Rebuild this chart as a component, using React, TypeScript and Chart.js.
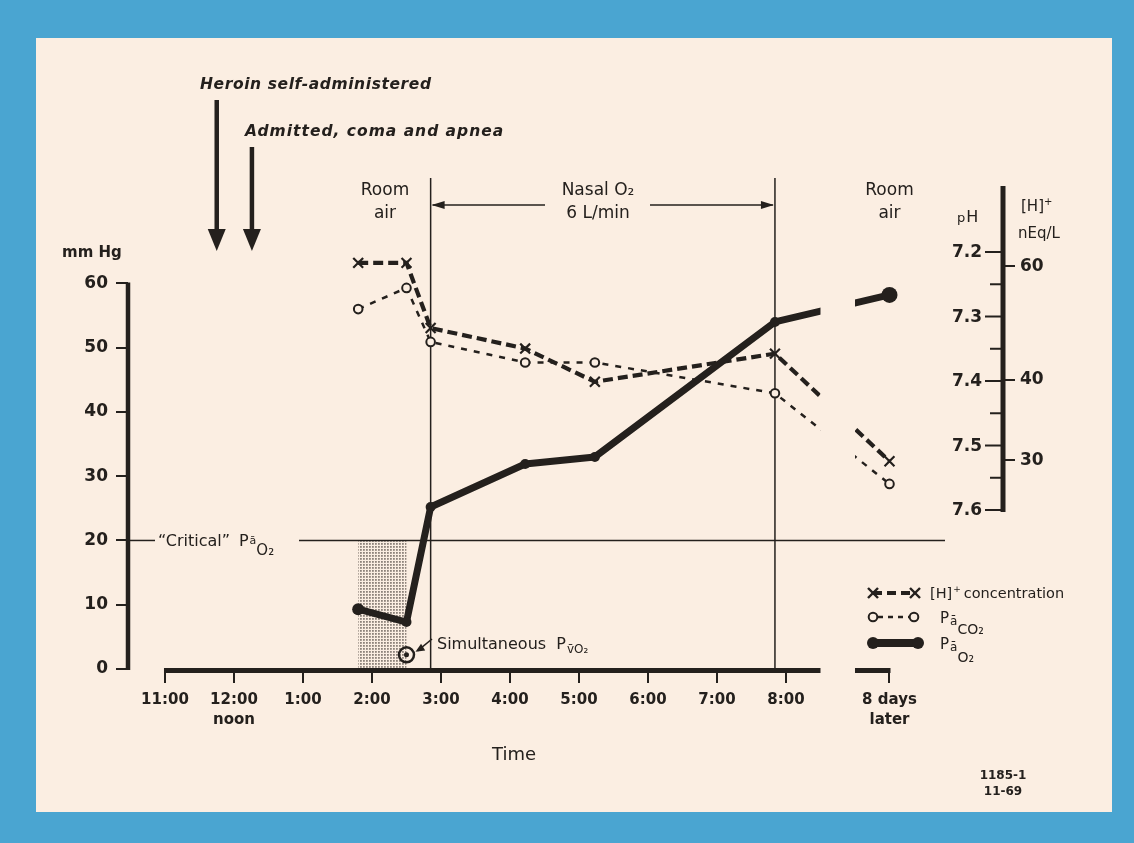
import React, { useEffect, useRef } from "react";
import { Chart, registerables } from "chart.js";
Chart.register(...registerables);

// ---------- data (hours of the day; 21.5 stands for "8 days later") ----------
const sampleTimes = [13.8, 14.5, 14.85, 16.22, 17.23, 19.84, 21.5];
const hydrogenIon = [60.7, 60.7, 48.1, 44.7, 39.7, 43.9, 29.9]; // nEq/L
const paCO2 = [56.0, 59.3, 50.9, 47.7, 47.7, 42.9, 28.8]; // mm Hg
const paO2 = [9.3, 7.3, 25.2, 31.9, 33.0, 54.0, 58.2]; // mm Hg
const pvO2Times = [14.5];
const pvO2 = [2.2];

const hourTicks = [11, 12, 13, 14, 15, 16, 17, 18, 19, 20, 21.5];
const hourLabels: (string | string[])[] = [
  "11:00", ["12:00", "noon"], "1:00", "2:00", "3:00", "4:00", "5:00", "6:00", "7:00", "8:00", ["8 days", "later"],
];
const mmHgTicks = [0, 10, 20, 30, 40, 50, 60];
const pHTicks = [7.2, 7.25, 7.3, 7.35, 7.4, 7.45, 7.5, 7.55, 7.6];
const pHLabels = ["7.2", "", "7.3", "", "7.4", "", "7.5", "", "7.6"];
const hIonTicks = [60, 40, 30];

const criticalPaO2 = 20;
const heroinTime = 11.75;
const admittedTime = 12.26;
const nasalStart = 14.85;
const nasalEnd = 19.84;
const breakStart = 20.5;
const breakEnd = 21.0;

// ---------- style ----------
const INK = "#24201d";
const CREAM = "#fbeee2";
const BLUE = "#4aa5d1";
const FONT = "'DejaVu Sans', 'Liberation Sans', sans-serif";

type Part = { t: string; size: number; dy?: number; weight?: string; style?: string; gap?: number };

function txt(ctx: CanvasRenderingContext2D, s: string, x: number, y: number, size: number, o: any = {}) {
  ctx.font = `${o.style || "normal"} ${o.weight || "normal"} ${size}px ${FONT}`;
  ctx.textAlign = o.align || "left";
  ctx.textBaseline = o.baseline || "alphabetic";
  ctx.fillStyle = INK;
  (ctx as any).letterSpacing = o.ls || "0px";
  ctx.fillText(s, x, y);
  const w = ctx.measureText(s).width;
  (ctx as any).letterSpacing = "0px";
  return w;
}
function rich(ctx: CanvasRenderingContext2D, x: number, y: number, parts: Part[]) {
  let cx = x;
  for (const p of parts) cx += txt(ctx, p.t, cx, y + (p.dy || 0), p.size, p) + (p.gap || 0);
}
function head(ctx: CanvasRenderingContext2D, tx: number, ty: number, dx: number, dy: number, len: number, half: number) {
  const bx = tx - dx * len, by = ty - dy * len;
  ctx.beginPath();
  ctx.moveTo(tx, ty);
  ctx.lineTo(bx - dy * half, by + dx * half);
  ctx.lineTo(bx + dy * half, by - dx * half);
  ctx.closePath();
  ctx.fill();
}
function seg(ctx: CanvasRenderingContext2D, x1: number, y1: number, x2: number, y2: number, w: number, dash: number[] = []) {
  ctx.beginPath();
  ctx.setLineDash(dash);
  ctx.lineWidth = w;
  ctx.moveTo(x1, y1);
  ctx.lineTo(x2, y2);
  ctx.stroke();
  ctx.setLineDash([]);
}

export default function App() {
  const ref = useRef<HTMLCanvasElement>(null);

  useEffect(() => {
    document.body.style.margin = "0";
    const canvas = ref.current!;
    const pHTop = 7.0992, pHBottom = 7.8465;
    const h2 = (p: number) => Math.pow(10, 9 - p);

    const stipple = document.createElement("canvas");
    stipple.width = 3; stipple.height = 3;
    const sc = stipple.getContext("2d")!;
    sc.fillStyle = "rgba(95,85,80,0.7)";
    sc.fillRect(0, 0, 1.8, 1.8);

    const decor = {
      id: "decor",
      beforeDatasetsDraw(chart: any) {
        const { ctx, scales, chartArea } = chart;
        const x = scales.x, y = scales.y;
        ctx.save();
        // stippled hypoxic interval
        const sx0 = x.getPixelForValue(sampleTimes[0]);
        const sx1 = x.getPixelForValue(sampleTimes[1]);
        const sy0 = y.getPixelForValue(criticalPaO2);
        const sy1 = y.getPixelForValue(0);
        ctx.fillStyle = ctx.createPattern(stipple, "repeat");
        ctx.fillRect(sx0, sy0, sx1 - sx0, sy1 - sy0);
        ctx.strokeStyle = INK;
        // critical line
        const cy = y.getPixelForValue(criticalPaO2);
        seg(ctx, chartArea.left, cy, 155, cy, 1.5);
        seg(ctx, 299, cy, 945, cy, 1.5);
        // nasal O2 verticals
        const vx0 = x.getPixelForValue(nasalStart), vx1 = x.getPixelForValue(nasalEnd);
        seg(ctx, vx0, 178, vx0, y.getPixelForValue(0), 1.5);
        seg(ctx, vx1, 178, vx1, y.getPixelForValue(0), 1.5);
        ctx.restore();
        // clip out the time-axis break
        const g0 = x.getPixelForValue(breakStart), g1 = x.getPixelForValue(breakEnd);
        ctx.save();
        ctx.beginPath();
        ctx.rect(0, 0, g0, chart.height);
        ctx.rect(g1, 0, chart.width - g1, chart.height);
        ctx.clip();
      },
      afterDatasetsDraw(chart: any) {
        chart.ctx.restore();
      },
      afterDraw(chart: any) {
        const { ctx, scales, chartArea } = chart;
        const x = scales.x, y = scales.y, y2 = scales.y2;
        ctx.save();
        ctx.strokeStyle = INK;
        ctx.fillStyle = INK;
        ctx.lineCap = "butt";
        // left axis
        seg(ctx, chartArea.left, y.getPixelForValue(60) - 1, chartArea.left, y.getPixelForValue(0) + 1, 4.5);
        // right axis + pH ticks and labels
        const rx = chartArea.right;
        seg(ctx, rx, 186, rx, y2.getPixelForValue(7.6) + 2, 5);
        pHTicks.forEach((v, i) => {
          const py = y2.getPixelForValue(v);
          seg(ctx, rx - (pHLabels[i] ? 18 : 13), py, rx, py, 2);
          if (pHLabels[i]) txt(ctx, pHLabels[i], rx - 21, py + 1, 17, { weight: "bold", align: "right", baseline: "middle" });
        });
        // time axis baseline with break
        const by = y.getPixelForValue(0) + 1.5;
        seg(ctx, x.getPixelForValue(11) - 1, by, x.getPixelForValue(breakStart), by, 5);
        seg(ctx, x.getPixelForValue(breakEnd), by, x.getPixelForValue(21.5) + 1, by, 5);

        // event arrows
        const hx = x.getPixelForValue(heroinTime);
        seg(ctx, hx, 100, hx, 232, 4.5);
        head(ctx, hx, 251, 0, 1, 22, 9);
        const ax = x.getPixelForValue(admittedTime);
        seg(ctx, ax, 147, ax, 232, 4.5);
        head(ctx, ax, 251, 0, 1, 22, 9);
        txt(ctx, "Heroin self-administered", 200, 89, 15.5, { style: "italic", weight: "bold", ls: "0.6px" });
        txt(ctx, "Admitted, coma and apnea", 245, 136, 15.5, { style: "italic", weight: "bold", ls: "1px" });

        // nasal O2 arrow
        const vx0 = x.getPixelForValue(nasalStart), vx1 = x.getPixelForValue(nasalEnd);
        seg(ctx, vx0 + 2, 205, 545, 205, 1.6);
        seg(ctx, 650, 205, vx1 - 2, 205, 1.6);
        head(ctx, vx0 + 1, 205, -1, 0, 13, 4);
        head(ctx, vx1 - 1, 205, 1, 0, 13, 4);
        txt(ctx, "Nasal O₂", 598, 195, 17, { align: "center" });
        txt(ctx, "6 L/min", 598, 218, 17, { align: "center" });
        txt(ctx, "Room", 385, 195, 17, { align: "center" });
        txt(ctx, "air", 385, 218, 17, { align: "center" });
        const lx = x.getPixelForValue(21.5);
        txt(ctx, "Room", lx, 195, 17, { align: "center" });
        txt(ctx, "air", lx, 218, 17, { align: "center" });

        // axis captions
        txt(ctx, "mm Hg", 62, 257, 15, { weight: "bold" });
        rich(ctx, 957, 222, [{ t: "p", size: 13, gap: 1 }, { t: "H", size: 16 }]);
        rich(ctx, 1021, 211, [{ t: "[H]", size: 15 }, { t: "+", size: 10, dy: -6 }]);
        txt(ctx, "nEq/L", 1018, 238, 15);
        txt(ctx, "Time", 514, 760, 18, { align: "center" });
        txt(ctx, "1185-1", 1003, 779, 12, { align: "center", weight: "bold" });
        txt(ctx, "11-69", 1003, 795, 12, { align: "center", weight: "bold" });

        // critical label
        const cy = y.getPixelForValue(criticalPaO2);
        rich(ctx, 158, cy + 6, [
          { t: "\u201CCritical\u201D", size: 16, gap: 9 },
          { t: "P", size: 16, gap: 1 },
          { t: "ā", size: 11, dy: -2, gap: 0 },
          { t: "O₂", size: 15, dy: 9 },
        ]);

        // simultaneous PvO2 label
        const px = x.getPixelForValue(pvO2Times[0]);
        const py = y.getPixelForValue(pvO2[0]);
        seg(ctx, 432, 639, px + 11, py - 4, 1.6);
        head(ctx, px + 9, py - 3, -0.85, 0.52, 9, 4);
        rich(ctx, 437, 649, [
          { t: "Simultaneous  P", size: 16, gap: 1 },
          { t: "v̄O₂", size: 12, dy: 4 },
        ]);

        // legend
        const L1 = 593, L2 = 617, L3 = 643;
        seg(ctx, 873, L1, 915, L1, 4, [9, 5]);
        [873, 915].forEach((cx) => {
          seg(ctx, cx - 5, L1 - 5, cx + 5, L1 + 5, 2.4);
          seg(ctx, cx - 5, L1 + 5, cx + 5, L1 - 5, 2.4);
        });
        rich(ctx, 930, 598, [
          { t: "[H]", size: 14.5, gap: 1 },
          { t: "+", size: 9, dy: -6, gap: 3 },
          { t: "concentration", size: 14.5 },
        ]);
        seg(ctx, 878, L2, 909, L2, 2.5, [5, 5]);
        [873, 914].forEach((cx) => {
          ctx.beginPath();
          ctx.arc(cx, L2, 4.3, 0, Math.PI * 2);
          ctx.fillStyle = CREAM;
          ctx.fill();
          ctx.lineWidth = 2;
          ctx.stroke();
        });
        ctx.fillStyle = INK;
        rich(ctx, 940, 623, [
          { t: "P", size: 15, gap: 1 },
          { t: "ā", size: 12, dy: 2 },
          { t: "CO₂", size: 14, dy: 11 },
        ]);
        ctx.lineCap = "round";
        seg(ctx, 873, L3, 918, L3, 8);
        ctx.lineCap = "butt";
        [873, 918].forEach((cx) => {
          ctx.beginPath();
          ctx.arc(cx, L3, 6, 0, Math.PI * 2);
          ctx.fill();
        });
        rich(ctx, 940, 649, [
          { t: "P", size: 15, gap: 1 },
          { t: "ā", size: 12, dy: 2 },
          { t: "O₂", size: 14, dy: 13 },
        ]);
        ctx.restore();
      },
    };

    const pts = (xs: number[], ys: number[]) => xs.map((t, i) => ({ x: t, y: ys[i] }));

    const chart = new Chart(canvas, {
      type: "line",
      data: {
        datasets: [
          {
            label: "PaO2",
            data: pts(sampleTimes, paO2),
            yAxisID: "y",
            borderColor: INK,
            borderWidth: 7,
            borderJoinStyle: "round",
            borderCapStyle: "round",
            pointStyle: "circle",
            pointRadius: [6, 5, 5, 5, 5, 5, 8],
            pointBackgroundColor: INK,
            pointBorderWidth: 0,
            tension: 0,
          },
          {
            label: "[H]+ concentration",
            data: pts(sampleTimes, hydrogenIon),
            yAxisID: "y3",
            borderColor: INK,
            borderWidth: 4.2,
            borderDash: [10, 5],
            pointStyle: "crossRot",
            pointRadius: 7,
            pointBorderColor: INK,
            pointBorderWidth: 2.2,
            tension: 0,
          },
          {
            label: "PaCO2",
            data: pts(sampleTimes, paCO2),
            yAxisID: "y",
            borderColor: INK,
            borderWidth: 2.5,
            borderDash: [6, 7],
            pointStyle: "circle",
            pointRadius: 4.3,
            pointBackgroundColor: CREAM,
            pointBorderColor: INK,
            pointBorderWidth: 2,
            tension: 0,
          },
          {
            label: "PvO2 ring",
            data: pts(pvO2Times, pvO2),
            yAxisID: "y",
            showLine: false,
            pointStyle: "circle",
            pointRadius: 7.5,
            pointBackgroundColor: "rgba(0,0,0,0)",
            pointBorderColor: INK,
            pointBorderWidth: 2.5,
          },
          {
            label: "PvO2 dot",
            data: pts(pvO2Times, pvO2),
            yAxisID: "y",
            showLine: false,
            pointStyle: "circle",
            pointRadius: 2.5,
            pointBackgroundColor: INK,
            pointBorderWidth: 0,
          },
        ],
      },
      options: {
        animation: false,
        responsive: false,
        events: [],
        layout: { padding: { top: 187, left: 0, right: 0, bottom: 0 } },
        plugins: { legend: { display: false }, tooltip: { enabled: false } },
        scales: {
          x: {
            type: "linear",
            position: "bottom",
            min: 10.464,
            max: 23.145,
            bounds: "data",
            afterFit: (s: any) => { s.height = 174; },
            afterBuildTicks: (s: any) => { s.ticks = hourTicks.map((v) => ({ value: v })); },
            ticks: {
              autoSkip: false,
              maxRotation: 0,
              padding: 7,
              color: INK,
              font: { family: FONT, size: 15, weight: "bold", lineHeight: 1.35 },
              callback: (_v: any, i: number) => hourLabels[i],
            },
            grid: { drawOnChartArea: false, drawTicks: true, tickLength: 14, tickColor: INK, lineWidth: 2 },
            border: { display: false },
          },
          y: {
            type: "linear",
            position: "left",
            min: 0,
            max: 75,
            bounds: "data",
            afterFit: (s: any) => { s.width = 128; },
            afterBuildTicks: (s: any) => { s.ticks = mmHgTicks.map((v) => ({ value: v })); },
            ticks: { autoSkip: false, padding: 8, color: INK, font: { family: FONT, size: 17, weight: "bold" } },
            grid: { drawOnChartArea: false, drawTicks: true, tickLength: 12, tickColor: INK, lineWidth: 2 },
            border: { display: false },
          },
          y2: {
            type: "linear",
            position: "right",
            weight: 0,
            reverse: true,
            min: pHTop,
            max: pHBottom,
            bounds: "data",
            afterFit: (s: any) => { s.width = 0; },
            afterBuildTicks: (s: any) => { s.ticks = pHTicks.map((v) => ({ value: v })); },
            ticks: { display: false },
            grid: { display: false, drawTicks: false },
            border: { display: false },
          },
          y3: {
            type: "logarithmic",
            position: "right",
            weight: 1,
            min: h2(pHBottom),
            max: h2(pHTop),
            bounds: "data",
            afterFit: (s: any) => { s.width = 131; },
            afterBuildTicks: (s: any) => { s.ticks = hIonTicks.map((v) => ({ value: v })); },
            ticks: {
              autoSkip: false,
              padding: 5,
              color: INK,
              font: { family: FONT, size: 17, weight: "bold" },
              callback: (v: any) => String(v),
            },
            grid: { drawOnChartArea: false, drawTicks: true, tickLength: 12, tickColor: INK, lineWidth: 2 },
            border: { display: false },
          },
        },
      } as any,
      plugins: [decor as any],
    });

    return () => chart.destroy();
  }, []);

  return (
    <div style={{ position: "fixed", left: 0, top: 0, width: 1134, height: 843, background: BLUE, overflow: "hidden" }}>
      <div style={{ position: "absolute", left: 36, top: 38, width: 1076, height: 774, background: CREAM }} />
      <canvas ref={ref} width={1134} height={843} style={{ position: "absolute", left: 0, top: 0 }} />
    </div>
  );
}
